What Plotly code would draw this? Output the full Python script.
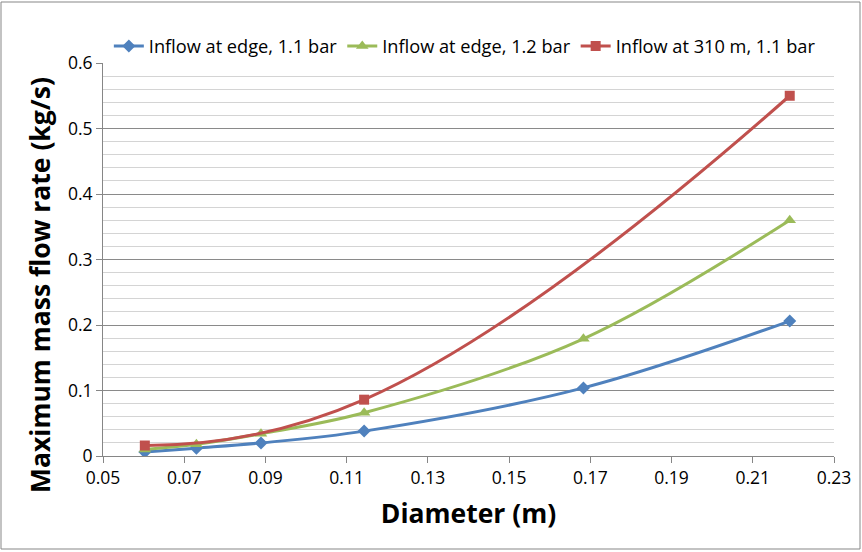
import plotly.graph_objects as go

# Pipe outer diameters (m)
diam_edge = [0.0603, 0.0730, 0.0889, 0.1143, 0.1683, 0.2191]
diam_310 = [0.0603, 0.1143, 0.2191]

# Maximum mass flow rate (kg/s)
flow_edge_11 = [0.006, 0.012, 0.020, 0.038, 0.104, 0.206]
flow_edge_12 = [0.010, 0.018, 0.034, 0.066, 0.179, 0.360]
flow_310_11 = [0.016, 0.086, 0.550]

y_ticks = [0, 0.1, 0.2, 0.3, 0.4, 0.5, 0.6]
y_tick_labels = ["0", "0.1", "0.2", "0.3", "0.4", "0.5", "0.6"]

series = [
    ("Inflow at edge, 1.1 bar", diam_edge, flow_edge_11, "#4F81BD", "diamond", 10, 1.0),
    ("Inflow at edge, 1.2 bar", diam_edge, flow_edge_12, "#9BBB59", "triangle-up", 11, 1.0),
    ("Inflow at 310 m, 1.1 bar", diam_310, flow_310_11, "#C0504D", "square", 10, 1.3),
]

font_family = "Open Sans, Liberation Sans, sans-serif"

fig = go.Figure()
for name, xs, ys, color, symbol, size, smooth in series:
    fig.add_trace(go.Scatter(
        x=xs, y=ys, name=name, mode="lines+markers",
        line=dict(color=color, width=3, shape="spline", smoothing=smooth),
        marker=dict(color=color, symbol=symbol, size=size),
    ))

fig.update_layout(
    width=862, height=552,
    margin=dict(l=103, r=28, t=63, b=96),
    paper_bgcolor="white", plot_bgcolor="white",
    font=dict(family=font_family, size=17, color="#000000"),
    showlegend=True,
    legend=dict(
        orientation="h", x=0.495, xanchor="center", y=1.09, yanchor="top",
        font=dict(size=18.2, color="#000000"), itemwidth=30,
        bgcolor="rgba(0,0,0,0)", tracegroupgap=0,
    ),
    xaxis=dict(
        range=[0.05, 0.23], dtick=0.02, tick0=0.05, tickformat=".2f",
        showgrid=False, zeroline=False,
        showline=True, linecolor="#868686", linewidth=1,
        ticks="outside", ticklen=6, tickcolor="#868686",
        tickfont=dict(size=17.5),
        title=dict(text="<b>Diameter (m)</b>", font=dict(size=26.5), standoff=16),
    ),
    yaxis=dict(
        range=[0, 0.6], tickmode="array", tickvals=y_ticks, ticktext=y_tick_labels,
        showgrid=True, gridcolor="#8a8a8a", gridwidth=1,
        minor=dict(dtick=0.02, showgrid=True, gridcolor="#d4d4d4", gridwidth=1),
        zeroline=False,
        showline=True, linecolor="#868686", linewidth=1,
        ticks="outside", ticklen=6, tickcolor="#868686",
        tickfont=dict(size=17.5),
    ),
)

# Vertical axis title, placed slightly below the plot centre
fig.add_annotation(
    text="<b>Maximum mass flow rate (kg/s)</b>", textangle=-90,
    xref="paper", yref="paper", x=-63 / 731, y=(456 - 285) / 393,
    xanchor="center", yanchor="middle", showarrow=False,
    font=dict(size=26.5, family=font_family, color="#000000"),
)

# Outer chart border
fig.add_shape(
    type="rect", xref="paper", yref="paper",
    x0=-102 / 731, x1=757 / 731, y0=-93 / 393, y1=454 / 393,
    line=dict(color="#878787", width=1), fillcolor="rgba(0,0,0,0)", layer="below",
)

fig.write_html("out.html")
